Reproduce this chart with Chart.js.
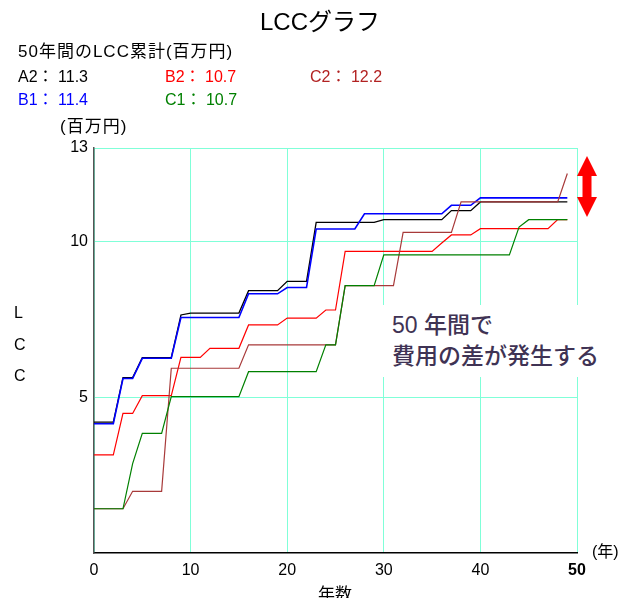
<!DOCTYPE html>
<html>
<head>
<meta charset="utf-8">
<script src="https://cdn.jsdelivr.net/npm/chart.js@4"></script>
<style>
    body { margin: 0; background: #fff; }
    #wrap { position: relative; width: 623px; height: 598px; overflow: hidden; font-family: "Liberation Sans", "Noto Sans CJK JP", sans-serif; color: #000; }
    #wrap canvas { position: absolute; left: 0; top: 0; }
    .txt { position: absolute; white-space: nowrap; line-height: 1; }
    #note { position: absolute; left: 378px; top: 305px; width: 240px; height: 72px; background: #fff; }
</style>
</head>
<body>
<div id="wrap">
    <canvas id="lccChart" width="623" height="598"></canvas>
    <div id="note">
        <div class="txt" style="left:14px; top:9px; font-size:23px; color:#3f3354; font-weight:500;">50 年間で</div>
        <div class="txt" style="left:14px; top:40px; font-size:23px; color:#3f3354; font-weight:500;">費用の差が発生する</div>
    </div>
    <div class="txt" style="left:0; width:640px; text-align:center; top:10px; font-size:24px;">LCCグラフ</div>
    <div class="txt" style="left:18px; top:43px; font-size:17px; letter-spacing:1px;">50年間のLCC累計(百万円)</div>
    <div class="txt" style="left:18px; top:69px; font-size:16px;">A2： 11.3</div>
    <div class="txt" style="left:165px; top:69px; font-size:16px; color:#ff0000;">B2： 10.7</div>
    <div class="txt" style="left:310px; top:69px; font-size:16px; color:#b22222;">C2： 12.2</div>
    <div class="txt" style="left:18px; top:92px; font-size:16px; color:#0000ff;">B1： 11.4</div>
    <div class="txt" style="left:165px; top:92px; font-size:16px; color:#008000;">C1： 10.7</div>
    <div class="txt" style="left:60px; top:118px; font-size:17px; letter-spacing:1px;">(百万円)</div>
    <div class="txt" style="left:14px; top:305px; font-size:16px;">L</div>
    <div class="txt" style="left:14px; top:337px; font-size:16px;">C</div>
    <div class="txt" style="left:14px; top:368px; font-size:16px;">C</div>
    <div class="txt" style="left:592px; top:544px; font-size:16px;">(年)</div>
    <div class="txt" style="left:318px; top:586px; font-size:17px;">年数</div>
</div>
<script>
const years = [...Array(50).keys()];
const xTicks = [0, 10, 20, 30, 40, 50];
const yTicks = [5, 10, 13];

const seriesA2 = [4.20, 4.20, 4.20, 5.63, 5.63, 6.27, 6.27, 6.27, 6.27, 7.64,
                  7.70, 7.70, 7.70, 7.70, 7.70, 7.70, 8.42, 8.42, 8.42, 8.42,
                  8.72, 8.72, 8.72, 10.61, 10.61, 10.61, 10.61, 10.61, 10.61, 10.61,
                  10.70, 10.70, 10.70, 10.70, 10.70, 10.70, 10.70, 10.99, 10.99, 10.99,
                  11.27, 11.27, 11.27, 11.27, 11.27, 11.27, 11.27, 11.27, 11.27, 11.27];
const seriesB1 = [4.15, 4.15, 4.15, 5.60, 5.60, 6.25, 6.25, 6.25, 6.25, 7.56,
                  7.56, 7.56, 7.56, 7.56, 7.56, 7.56, 8.32, 8.32, 8.32, 8.32,
                  8.52, 8.52, 8.52, 10.40, 10.40, 10.40, 10.40, 10.40, 10.89, 10.89,
                  10.89, 10.89, 10.89, 10.89, 10.89, 10.89, 10.89, 11.16, 11.16, 11.16,
                  11.40, 11.40, 11.40, 11.40, 11.40, 11.40, 11.40, 11.40, 11.40, 11.40];
const seriesB2 = [3.15, 3.15, 3.15, 4.48, 4.48, 5.05, 5.05, 5.05, 5.05, 6.28,
                  6.28, 6.28, 6.57, 6.57, 6.57, 6.57, 7.32, 7.32, 7.32, 7.32,
                  7.54, 7.54, 7.54, 7.54, 7.80, 7.80, 9.68, 9.68, 9.68, 9.68,
                  9.68, 9.68, 9.68, 9.68, 9.68, 9.68, 9.95, 10.21, 10.21, 10.21,
                  10.41, 10.41, 10.41, 10.41, 10.41, 10.41, 10.41, 10.41, 10.70, 10.70];
const seriesC1 = [1.42, 1.42, 1.42, 1.42, 2.87, 3.84, 3.84, 3.84, 5.02, 5.02,
                  5.02, 5.02, 5.02, 5.02, 5.02, 5.02, 5.82, 5.82, 5.82, 5.82,
                  5.82, 5.82, 5.82, 5.82, 6.68, 6.68, 8.58, 8.58, 8.58, 8.58,
                  9.57, 9.57, 9.57, 9.57, 9.57, 9.57, 9.57, 9.57, 9.57, 9.57,
                  9.57, 9.57, 9.57, 9.57, 10.46, 10.70, 10.70, 10.70, 10.70, 10.70];
const seriesC2 = [1.42, 1.42, 1.42, 1.42, 1.98, 1.98, 1.98, 1.98, 5.93, 5.93,
                  5.93, 5.93, 5.93, 5.93, 5.93, 5.93, 6.68, 6.68, 6.68, 6.68,
                  6.68, 6.68, 6.68, 6.68, 6.68, 6.68, 8.58, 8.58, 8.58, 8.58,
                  8.58, 8.58, 10.29, 10.29, 10.29, 10.29, 10.29, 10.29, 11.27, 11.27,
                  11.27, 11.27, 11.27, 11.27, 11.27, 11.27, 11.27, 11.27, 11.27, 12.18];

const gridColor = '#80ffd8';
const tickFont = { family: '"Liberation Sans", sans-serif', size: 16 };

function toPoints(values) {
    return values.map((v, i) => ({ x: years[i], y: v }));
}

function makeSet(label, values, color, width) {
    return {
        label,
        data: toPoints(values),
        borderColor: color,
        borderWidth: width,
        pointRadius: 0,
        tension: 0,
        fill: false
    };
}

// red double arrow beside the end of the lines
const arrowPlugin = {
    id: 'arrow',
    afterDraw(chart) {
        const ctx = chart.ctx;
        const cx = 587, top = 156, bottom = 217, head = 20, half = 10, shaft = 4.5;
        ctx.save();
        ctx.fillStyle = '#ff0000';
        ctx.beginPath();
        ctx.moveTo(cx, top);
        ctx.lineTo(cx + half, top + head);
        ctx.lineTo(cx + shaft, top + head);
        ctx.lineTo(cx + shaft, bottom - head);
        ctx.lineTo(cx + half, bottom - head);
        ctx.lineTo(cx, bottom);
        ctx.lineTo(cx - half, bottom - head);
        ctx.lineTo(cx - shaft, bottom - head);
        ctx.lineTo(cx - shaft, top + head);
        ctx.lineTo(cx - half, top + head);
        ctx.closePath();
        ctx.fill();
        ctx.restore();
    }
};

new Chart(document.getElementById('lccChart').getContext('2d'), {
    type: 'line',
    data: {
        datasets: [
            makeSet('C1', seriesC1, '#008000', 1.2),
            makeSet('C2', seriesC2, '#a83a3a', 1.2),
            makeSet('B2', seriesB2, '#ff0000', 1.2),
            makeSet('B1', seriesB1, '#0000ff', 1.6),
            makeSet('A2', seriesA2, '#000000', 1.3)
        ]
    },
    options: {
        responsive: false,
        animation: false,
        layout: { padding: { left: 0, right: 46, top: 148, bottom: 0 } },
        plugins: { legend: { display: false }, tooltip: { enabled: false } },
        scales: {
            x: {
                type: 'linear',
                min: 0,
                max: 50,
                afterBuildTicks: s => { s.ticks = xTicks.map(v => ({ value: v })); },
                afterFit: s => { s.height = 45; },
                grid: { color: gridColor, drawTicks: false },
                border: { color: '#000', width: 1.5 },
                ticks: {
                    padding: 8,
                    color: '#000',
                    font: c => ({ ...tickFont, weight: c.tick && c.tick.value === 50 ? 'bold' : 'normal' })
                }
            },
            y: {
                type: 'linear',
                min: 0,
                max: 13,
                afterBuildTicks: s => { s.ticks = yTicks.map(v => ({ value: v })); },
                afterFit: s => { s.width = 94; },
                grid: { color: gridColor, drawTicks: false },
                border: { color: '#555', width: 1.5 },
                ticks: { padding: 6, color: '#000', font: tickFont }
            }
        }
    },
    plugins: [arrowPlugin]
});
</script>
</body>
</html>
